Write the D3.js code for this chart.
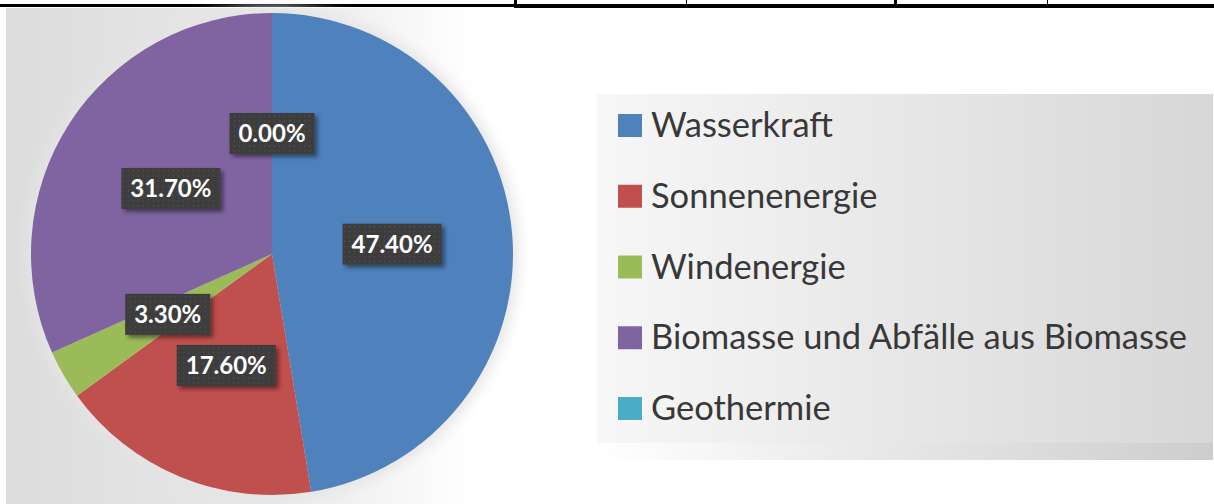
<!DOCTYPE html>
<meta charset="utf-8">
<style>
  html, body { margin: 0; padding: 0; background: #fff; }
  svg { display: block; }
  .lbl { font-family: Lato, "Open Sans", sans-serif; font-weight: bold; fill: #fff; }
  .leg { font-family: Lato, "Open Sans", sans-serif; fill: #383838; }
</style>
<body>
<div id="chart"></div>
<script src="https://d3js.org/d3.v7.min.js"></script>
<script>

// data
var categories = ["Wasserkraft", "Sonnenenergie", "Windenergie", "Biomasse und Abfälle aus Biomasse", "Geothermie"];
var values = [47.4, 17.6, 3.3, 31.7, 0.0];
var colors = ["#4F81BD", "#C0504D", "#9BBB59", "#8064A2", "#4BACC6"];

var W = 1214, H = 504;
var cx = 272, cy = 254, r = 241;

var svg = d3.select("#chart").append("svg")
  .attr("width", W)
  .attr("height", H);

var defs = svg.append("defs");

// chart area background (grey to white)
var bg = defs.append("linearGradient").attr("id", "bgGrad")
  .attr("x1", 0).attr("x2", 1).attr("y1", 0).attr("y2", 0);
bg.append("stop").attr("offset", "0%").attr("stop-color", "#dcdcdc");
bg.append("stop").attr("offset", "45%").attr("stop-color", "#e9e9e9");
bg.append("stop").attr("offset", "78%").attr("stop-color", "#ffffff");

// legend background
var lg = defs.append("linearGradient").attr("id", "legGrad")
  .attr("x1", 0).attr("x2", 1).attr("y1", 0).attr("y2", 0);
lg.append("stop").attr("offset", "0%").attr("stop-color", "#f7f7f7");
lg.append("stop").attr("offset", "100%").attr("stop-color", "#d7d7d7");

var ls = defs.append("linearGradient").attr("id", "legShadow")
  .attr("x1", 0).attr("x2", 1).attr("y1", 0).attr("y2", 0);
ls.append("stop").attr("offset", "0%").attr("stop-color", "#ffffff");
ls.append("stop").attr("offset", "100%").attr("stop-color", "#cdcdcd");

// halo around the pie
defs.append("filter").attr("id", "halo")
  .attr("x", "-20%").attr("y", "-20%").attr("width", "140%").attr("height", "140%")
  .append("feGaussianBlur").attr("stdDeviation", 7);

// shadow of the label boxes
var sh = defs.append("filter").attr("id", "boxShadow")
  .attr("x", "-30%").attr("y", "-30%").attr("width", "160%").attr("height", "160%");
sh.append("feDropShadow").attr("dx", 3).attr("dy", 3).attr("stdDeviation", 2)
  .attr("flood-color", "#000").attr("flood-opacity", 0.45);

// dotted pattern for label boxes
var pat = defs.append("pattern").attr("id", "dots")
  .attr("width", 5).attr("height", 5).attr("patternUnits", "userSpaceOnUse");
pat.append("rect").attr("width", 5).attr("height", 5).attr("fill", "#3d3d3d");
pat.append("rect").attr("x", 2).attr("y", 2).attr("width", 1).attr("height", 1).attr("fill", "#5a5a5a");

// background panel
svg.append("rect")
  .attr("x", 6).attr("y", 8)
  .attr("width", 600).attr("height", H - 8)
  .attr("fill", "url(#bgGrad)");

// table border lines at the top
svg.append("rect").attr("x", 0).attr("y", 4).attr("width", 516).attr("height", 3).attr("fill", "#000");
svg.append("rect").attr("x", 514).attr("y", 4).attr("width", W - 514).attr("height", 4).attr("fill", "#000");
[[514, 3], [686, 1], [894, 3], [1047, 1]].forEach(function(t) {
  svg.append("rect").attr("x", t[0]).attr("y", 0).attr("width", t[1]).attr("height", 8).attr("fill", "#000");
});

// pie
var pie = d3.pie().sort(null).value(function(d) { return d.v; });
var arc = d3.arc().innerRadius(0).outerRadius(r);

var data = categories.map(function(c, i) { return {name: c, v: values[i], color: colors[i]}; });
var arcs = pie(data);

var g = svg.append("g").attr("transform", "translate(" + cx + "," + cy + ")");

g.append("circle").attr("r", r + 5)
  .attr("fill", "#e4e4e4")
  .attr("filter", "url(#halo)");

g.selectAll("path.slice")
  .data(arcs)
  .enter().append("path")
  .attr("class", "slice")
  .attr("d", arc)
  .attr("fill", function(d) { return d.data.color; });

// labels
var fmt = d3.format(".2f");
var lab = g.selectAll("g.lab")
  .data(arcs)
  .enter().append("g")
  .attr("class", "lab")
  .attr("transform", function(d) { return "translate(" + arc.centroid(d) + ")"; });

lab.each(function(d) {
  var el = d3.select(this);
  var box = el.append("rect");
  var t = el.append("text")
    .attr("class", "lbl")
    .attr("text-anchor", "middle")
    .attr("y", 8.5)
    .style("font-size", "24px")
    .text(fmt(d.data.v) + "%");
  var w = t.node().getComputedTextLength() + 18;
  box.attr("x", -w / 2).attr("y", -20.5)
    .attr("width", w).attr("height", 41)
    .attr("fill", "url(#dots)")
    .attr("filter", "url(#boxShadow)");
});

// legend
var legX = 597, legY = 94, legW = W - 1 - legX, legH = 443 - legY;
svg.append("rect")
  .attr("x", legX + 2).attr("y", legY + legH)
  .attr("width", legW - 2).attr("height", 17)
  .attr("fill", "url(#legShadow)");
svg.append("rect")
  .attr("x", legX).attr("y", legY)
  .attr("width", legW).attr("height", legH)
  .attr("fill", "url(#legGrad)");

var rowY = d3.scalePoint().domain(categories).range([114, 397]);

var item = svg.selectAll("g.item")
  .data(data)
  .enter().append("g")
  .attr("class", "item")
  .attr("transform", function(d) { return "translate(618," + rowY(d.name) + ")"; });

item.append("rect")
  .attr("width", 24).attr("height", 23)
  .attr("fill", function(d) { return d.color; });

item.append("text")
  .attr("class", "leg")
  .attr("x", 33)
  .attr("y", 23)
  .style("font-size", "34.5px")
  .text(function(d) { return d.name; });

</script>
</body>
